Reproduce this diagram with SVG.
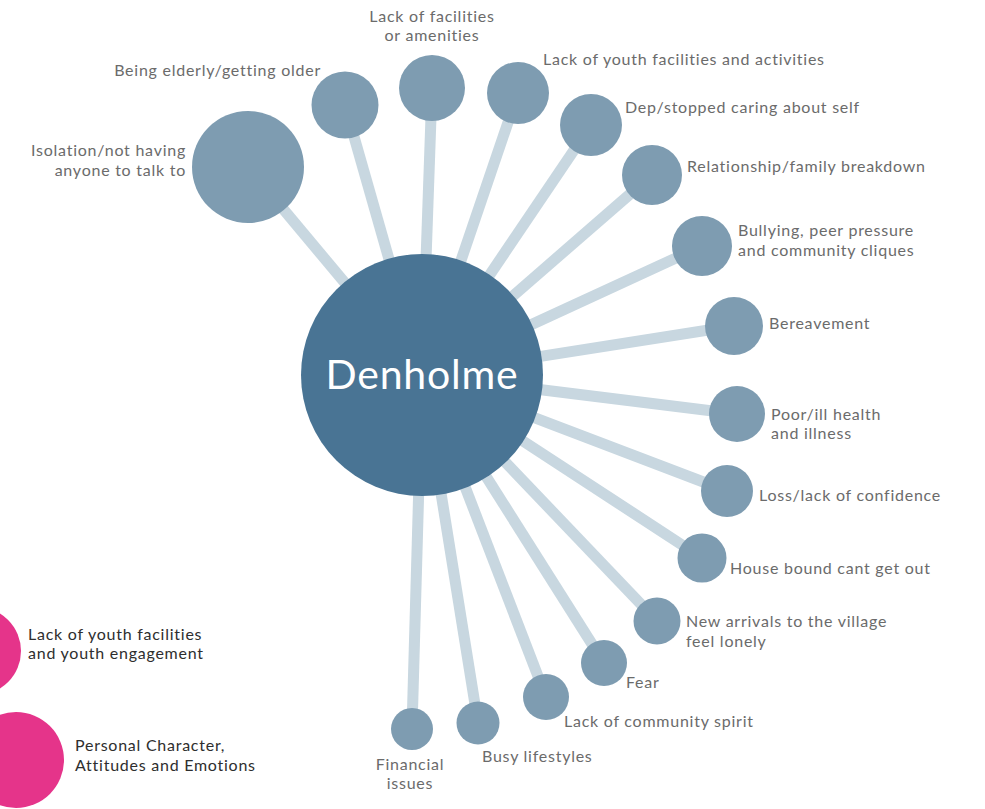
<svg xmlns="http://www.w3.org/2000/svg" width="985" height="809" viewBox="0 0 985 809">
<style>
.c{stroke:#c8d7e0;stroke-width:11;fill:none}
.s{fill:#7e9cb1}
.p{fill:#e5348a}
.t{font-family:Lato,"Open Sans",sans-serif;font-size:16px;letter-spacing:0.75px;fill:#6b6b6b}
.k{font-family:Lato,"Open Sans",sans-serif;font-size:16px;letter-spacing:0.75px;fill:#2e2e2e}
.e{text-anchor:end}
.m{text-anchor:middle}
</style>
<rect width="985" height="809" fill="#fff"/>
<g id="connectors">
<line class="c" x1="422" y1="375" x2="248" y2="167"/>
<line class="c" x1="422" y1="375" x2="345" y2="105"/>
<line class="c" x1="422" y1="375" x2="432" y2="88"/>
<line class="c" x1="422" y1="375" x2="518" y2="93"/>
<line class="c" x1="422" y1="375" x2="591" y2="125"/>
<line class="c" x1="422" y1="375" x2="652" y2="175"/>
<line class="c" x1="422" y1="375" x2="702" y2="246"/>
<line class="c" x1="422" y1="375" x2="734" y2="326"/>
<line class="c" x1="422" y1="375" x2="737" y2="414"/>
<line class="c" x1="422" y1="375" x2="727" y2="491"/>
<line class="c" x1="422" y1="375" x2="702" y2="558"/>
<line class="c" x1="422" y1="375" x2="657" y2="621"/>
<line class="c" x1="422" y1="375" x2="604" y2="663"/>
<line class="c" x1="422" y1="375" x2="546" y2="697"/>
<line class="c" x1="422" y1="375" x2="478" y2="723"/>
<line class="c" x1="422" y1="375" x2="412" y2="729"/>
</g>
<g id="denholme"><circle cx="422" cy="375" r="121" fill="#497494"/><text x="422" y="389" text-anchor="middle" font-family="Lato,'Open Sans',sans-serif" font-size="41" letter-spacing="0.8" fill="#fff">Denholme</text></g>
<g id="isolation"><circle class="s" cx="248" cy="167" r="56"/><text class="t e" x="186" y="156">Isolation/not having</text><text class="t e" x="186" y="175.5">anyone to talk to</text></g>
<g id="elderly"><circle class="s" cx="345" cy="105" r="33.5"/><text class="t e" x="321" y="76">Being elderly/getting older</text></g>
<g id="facilities"><circle class="s" cx="432" cy="88" r="33"/><text class="t m" x="432" y="21.5">Lack of facilities</text><text class="t m" x="432" y="41">or amenities</text></g>
<g id="youth-activities"><circle class="s" cx="518" cy="93" r="31"/><text class="t" x="543" y="65">Lack of youth facilities and activities</text></g>
<g id="dep"><circle class="s" cx="591" cy="125" r="31"/><text class="t" x="625" y="113">Dep/stopped caring about self</text></g>
<g id="relationship"><circle class="s" cx="652" cy="175" r="30"/><text class="t" x="687" y="172">Relationship/family breakdown</text></g>
<g id="bullying"><circle class="s" cx="702" cy="246" r="30"/><text class="t" x="738" y="236">Bullying, peer pressure</text><text class="t" x="738" y="255.5">and community cliques</text></g>
<g id="bereavement"><circle class="s" cx="734" cy="326" r="29"/><text class="t" x="769" y="329">Bereavement</text></g>
<g id="health"><circle class="s" cx="737" cy="414" r="28"/><text class="t" x="771" y="419.5">Poor/ill health</text><text class="t" x="771" y="439">and illness</text></g>
<g id="confidence"><circle class="s" cx="727" cy="491" r="26"/><text class="t" x="759" y="501">Loss/lack of confidence</text></g>
<g id="housebound"><circle class="s" cx="702" cy="558" r="24.5"/><text class="t" x="730" y="574">House bound cant get out</text></g>
<g id="new-arrivals"><circle class="s" cx="657" cy="621" r="23.5"/><text class="t" x="686" y="627">New arrivals to the village</text><text class="t" x="686" y="646.5">feel lonely</text></g>
<g id="fear"><circle class="s" cx="604" cy="663" r="23"/><text class="t" x="626" y="688">Fear</text></g>
<g id="community-spirit"><circle class="s" cx="546" cy="697" r="23"/><text class="t" x="564" y="727">Lack of community spirit</text></g>
<g id="busy"><circle class="s" cx="478" cy="723" r="21.5"/><text class="t" x="482" y="762">Busy lifestyles</text></g>
<g id="financial"><circle class="s" cx="412" cy="729" r="21"/><text class="t m" x="410" y="769.5">Financial</text><text class="t m" x="410" y="789">issues</text></g>
<g id="legend-youth"><circle class="p" cx="-23" cy="651" r="44"/><text class="k" x="28" y="639.5">Lack of youth facilities</text><text class="k" x="28" y="659">and youth engagement</text></g>
<g id="legend-personal"><circle class="p" cx="16" cy="760" r="48"/><text class="k" x="75" y="751">Personal Character,</text><text class="k" x="75" y="770.5">Attitudes and Emotions</text></g>
</svg>
